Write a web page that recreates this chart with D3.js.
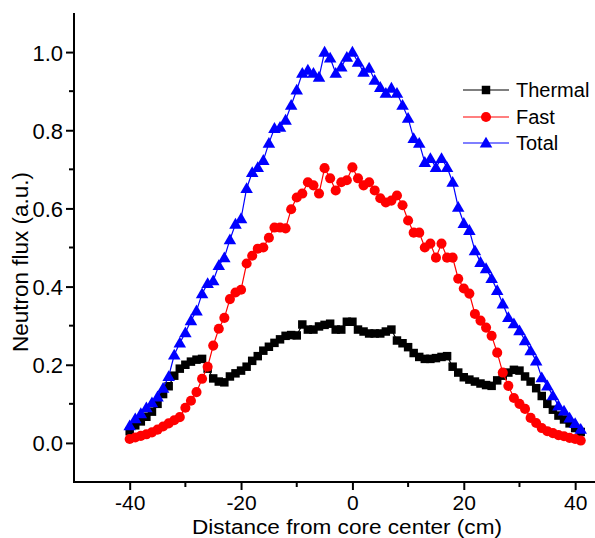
<!DOCTYPE html>
<html>
<head>
<meta charset="utf-8">
<script src="https://cdn.jsdelivr.net/npm/d3@7"></script>
<style>
  html, body { margin: 0; padding: 0; background: #fff; }
  svg { display: block; font-family: Arial, "Liberation Sans", sans-serif; }
</style>
</head>
<body>
<svg id="chart" width="595" height="538"></svg>
<script>
// ---- Data ----
const distance = d3.range(-40, 42, 1); // -40 .. 41 cm

const thermal = [
  0.030, 0.045, 0.055, 0.067, 0.080, 0.100, 0.125, 0.145, 0.172, 0.190,
  0.200, 0.208, 0.213, 0.215, 0.190, 0.165, 0.157, 0.155, 0.170, 0.178,
  0.185, 0.195, 0.210, 0.222, 0.236, 0.246, 0.256, 0.265, 0.274, 0.276,
  0.275, 0.303, 0.290, 0.290, 0.298, 0.302, 0.305, 0.290, 0.290, 0.310,
  0.310, 0.290, 0.285, 0.280, 0.280, 0.280, 0.285, 0.290, 0.262, 0.255,
  0.245, 0.230, 0.220, 0.215, 0.215, 0.217, 0.220, 0.222, 0.195, 0.180,
  0.168, 0.162, 0.157, 0.152, 0.148, 0.146, 0.160, 0.172, 0.180, 0.187,
  0.185, 0.170, 0.157, 0.140, 0.120, 0.100, 0.085, 0.070, 0.060, 0.050,
  0.038, 0.028
];

const fast = [
  0.010, 0.014, 0.018, 0.022, 0.027, 0.034, 0.042, 0.050, 0.058, 0.066,
  0.090, 0.108, 0.130, 0.164, 0.195, 0.249, 0.292, 0.320, 0.368, 0.385,
  0.392, 0.459, 0.479, 0.497, 0.500, 0.525, 0.551, 0.551, 0.549, 0.598,
  0.628, 0.638, 0.667, 0.659, 0.638, 0.703, 0.677, 0.646, 0.667, 0.672,
  0.705, 0.677, 0.659, 0.667, 0.646, 0.626, 0.615, 0.620, 0.633, 0.608,
  0.569, 0.538, 0.538, 0.500, 0.510, 0.474, 0.510, 0.474, 0.474, 0.420,
  0.395, 0.382, 0.330, 0.313, 0.295, 0.274, 0.231, 0.180, 0.146, 0.115,
  0.100, 0.087, 0.064, 0.051, 0.038, 0.030, 0.025, 0.020, 0.017, 0.013,
  0.010, 0.006
];

const total = [
  0.044, 0.062, 0.075, 0.090, 0.103, 0.118, 0.140, 0.170, 0.225, 0.256,
  0.282, 0.313, 0.338, 0.382, 0.408, 0.415, 0.454, 0.474, 0.520, 0.560,
  0.574, 0.651, 0.692, 0.705, 0.723, 0.767, 0.805, 0.808, 0.826, 0.864,
  0.903, 0.946, 0.954, 0.946, 0.936, 1.000, 0.985, 0.946, 0.962, 0.987,
  1.000, 0.974, 0.949, 0.959, 0.928, 0.910, 0.895, 0.908, 0.895, 0.864,
  0.831, 0.779, 0.767, 0.718, 0.728, 0.705, 0.728, 0.705, 0.667, 0.603,
  0.562, 0.544, 0.492, 0.462, 0.446, 0.421, 0.390, 0.356, 0.321, 0.305,
  0.287, 0.262, 0.236, 0.210, 0.167, 0.146, 0.121, 0.095, 0.082, 0.064,
  0.050, 0.035
];

const seriesNames = ["Thermal", "Fast", "Total"];
const seriesColors = ["#000000", "#ff0000", "#0000ff"];
const xMajorTicks = [-40, -20, 0, 20, 40];
const xMinorTicks = [-30, -10, 10, 30];
const yMajorTicks = [0.0, 0.2, 0.4, 0.6, 0.8, 1.0];
const yMinorTicks = [0.1, 0.3, 0.5, 0.7, 0.9];
const xTitle = "Distance from core center (cm)";
const yTitle = "Neutron flux (a.u.)";

// ---- Layout ----
const svg = d3.select("#chart");
const x = d3.scaleLinear().domain([-50, 45]).range([74, 603]);
const y = d3.scaleLinear().domain([-0.1, 1.1]).range([482, 13]);

// ---- Axes ----
const xAxis = d3.axisBottom(x).tickValues(xMajorTicks).tickSize(8).tickSizeOuter(0)
  .tickFormat(d3.format("d"));
const gx = svg.append("g").attr("transform", `translate(0,${y.range()[0]})`).call(xAxis);
gx.select(".domain").attr("stroke-width", 2).attr("d", `M${x.range()[0]},0H${x.range()[1]}`);
gx.selectAll(".tick line").attr("stroke-width", 2);
gx.selectAll(".tick text").attr("font-size", 21).attr("dy", "0").attr("y", 27.5)
  .attr("font-family", "Arial, 'Liberation Sans', sans-serif").text(d => d < 0 ? "-" + Math.abs(d) : d);
gx.selectAll(".minor").data(xMinorTicks).enter().append("line")
  .attr("x1", d => x(d)).attr("x2", d => x(d)).attr("y1", 0).attr("y2", 5)
  .attr("stroke", "#000").attr("stroke-width", 2);

const yAxis = d3.axisLeft(y).tickValues(yMajorTicks).tickSize(8).tickSizeOuter(0)
  .tickFormat(d3.format(".1f"));
const gy = svg.append("g").attr("transform", `translate(${x.range()[0]},0)`).call(yAxis);
gy.select(".domain").attr("stroke-width", 2).attr("d", `M0,${y.range()[0] + 1}V${y.range()[1]}`);
gy.selectAll(".tick line").attr("stroke-width", 2);
gy.selectAll(".tick text").attr("font-size", 22).attr("x", -11).attr("dy", "0.36em")
  .attr("font-family", "Arial, 'Liberation Sans', sans-serif");
gy.selectAll(".minor").data(yMinorTicks).enter().append("line")
  .attr("x1", 0).attr("x2", -5).attr("y1", d => y(d)).attr("y2", d => y(d))
  .attr("stroke", "#000").attr("stroke-width", 2);

// axis titles
svg.append("text").attr("x", 347).attr("y", 533.5).attr("text-anchor", "middle")
  .attr("font-size", 20.5).attr("textLength", 310).attr("lengthAdjust", "spacingAndGlyphs")
  .text(xTitle);
svg.append("text").attr("transform", "translate(28,262) rotate(-90)")
  .attr("text-anchor", "middle").attr("font-size", 22.5).text(yTitle);

// ---- Series ----
const seriesData = [thermal, fast, total];
const symbols = [
  d3.symbol().type(d3.symbolSquare).size(72),
  d3.symbol().type(d3.symbolCircle).size(80),
  d3.symbol().type(d3.symbolTriangle).size(68)
];

const line = d3.line().x(d => x(d[0])).y(d => y(d[1]));

seriesData.forEach((vals, i) => {
  const pts = distance.map((d, j) => [d, vals[j]]);
  const g = svg.append("g");
  g.append("path").datum(pts).attr("d", line)
    .attr("fill", "none").attr("stroke", seriesColors[i]).attr("stroke-width", 1.2);
  g.selectAll("path.m").data(pts).enter().append("path").attr("class", "m")
    .attr("d", symbols[i])
    .attr("transform", d => `translate(${x(d[0])},${y(d[1]) + (i === 2 ? 1 : 0)})`)
    .attr("fill", seriesColors[i]);
});

// ---- Legend ----
const legendY = [90, 117, 143];
const legend = svg.append("g");
seriesNames.forEach((name, i) => {
  const g = legend.append("g").attr("transform", `translate(0,${legendY[i]})`);
  g.append("line").attr("x1", 463).attr("x2", 509).attr("y1", 0).attr("y2", 0)
    .attr("stroke", seriesColors[i]).attr("stroke-width", 1.2);
  g.append("path").attr("d", symbols[i]).attr("transform", `translate(486,${i === 2 ? 1 : 0})`)
    .attr("fill", seriesColors[i]);
  g.append("text").attr("x", 516).attr("y", 7).attr("font-size", 20).text(name);
});
</script>
</body>
</html>
